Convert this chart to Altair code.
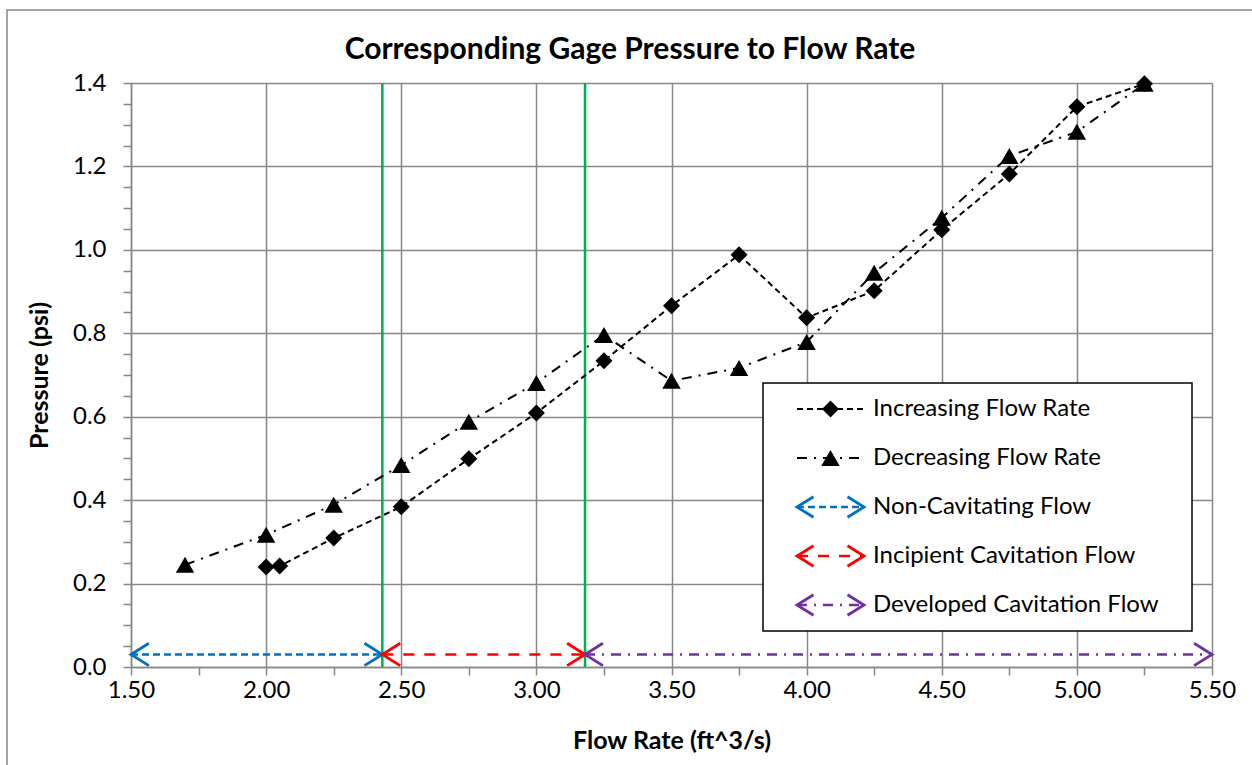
import altair as alt
import pandas as pd

# ---------------- data ----------------
inc_x = [2.00, 2.05, 2.25, 2.50, 2.75, 3.00, 3.25, 3.50, 3.75, 4.00, 4.25, 4.50, 4.75, 5.00, 5.25]
inc_y = [0.240, 0.242, 0.309, 0.384, 0.499, 0.609, 0.734, 0.866, 0.988, 0.837, 0.902, 1.048, 1.182, 1.343, 1.398]
dec_x = [5.25, 5.00, 4.75, 4.50, 4.25, 4.00, 3.75, 3.50, 3.25, 3.00, 2.75, 2.50, 2.25, 2.00, 1.70]
dec_y = [1.398, 1.283, 1.225, 1.077, 0.945, 0.779, 0.717, 0.686, 0.796, 0.681, 0.588, 0.484, 0.389, 0.317, 0.245]
series_names = ["Increasing Flow Rate", "Decreasing Flow Rate"]
boundaries = [2.43, 3.18]
regions = ["Non-Cavitating Flow", "Incipient Cavitation Flow", "Developed Cavitation Flow"]
region_start = [1.50, 2.43, 3.18]
region_end = [2.43, 3.18, 5.50]
arrow_level = [0.03, 0.03, 0.03]
x_ticks = [1.50 + 0.25 * i for i in range(17)]
y_ticks = [round(0.05 * i, 2) for i in range(29)]
chart_title = "Corresponding Gage Pressure to Flow Rate"

# ---------------- styles ----------------
FONT = "Lato"
GRID = "#878787"
region_colors = ["#0070C0", "#FF0000", "#7030A0"]
region_dash = [[7, 4], [11, 10], [10, 7, 2, 7]]
INC_DASH = [6, 4]
DEC_DASH = [10, 7, 2, 7]
GREEN = "#00B050"
LEFT_CHEV = "M 1.6 -1 L 0 0 L 1.6 1"
RIGHT_CHEV = "M -1.6 -1 L 0 0 L -1.6 1"
CHEV_SIZE = 500
CHEV_W = 2.8

PW, PH = 1081, 584
LEFT, TOP = 131, 83

major_x = "abs(datum.value*2 - round(datum.value*2)) < 0.01"
major_y = "abs(datum.value*5 - round(datum.value*5)) < 0.01"

xscale = alt.Scale(domain=[1.5, 5.5], nice=False, zero=False)
yscale = alt.Scale(domain=[0, 1.4], nice=False, zero=False)

x_axis = alt.Axis(
    values=x_ticks,
    labelExpr=f"{major_x} ? format(datum.value, '.2f') : ''",
    gridColor=GRID, gridWidth=1.5,
    gridOpacity={"condition": {"test": major_x, "value": 1}, "value": 0},
    tickColor=GRID, tickWidth=1.5, tickSize=8,
    domainColor=GRID, domainWidth=1.5,
    labelFont=FONT, labelFontSize=24, labelColor="black", labelPadding=3,
    labelFlush=False,
    title="Flow Rate (ft^3/s)", titleFont=FONT, titleFontSize=25,
    titleFontWeight="bold", titleColor="black", titlePadding=26,
)
y_axis = alt.Axis(
    values=y_ticks,
    labelExpr=f"{major_y} ? format(datum.value, '.1f') : ''",
    gridColor=GRID, gridWidth=1.5,
    gridOpacity={"condition": {"test": major_y, "value": 1}, "value": 0},
    tickColor=GRID, tickWidth=1.5, tickSize=8,
    domainColor=GRID, domainWidth=1.5,
    labelFont=FONT, labelFontSize=24, labelColor="black", labelPadding=17,
    labelFlush=False,
    title="Pressure (psi)", titleFont=FONT, titleFontSize=25,
    titleFontWeight="bold", titleColor="black", titlePadding=20,
)

X = lambda f: alt.X(f, type="quantitative", scale=xscale, axis=x_axis)
Y = lambda f: alt.Y(f, type="quantitative", scale=yscale, axis=y_axis)

inc_df = pd.DataFrame({"x": inc_x, "y": inc_y, "series": series_names[0]})
dec_df = pd.DataFrame({"x": dec_x, "y": dec_y, "series": series_names[1]})
bound_df = pd.DataFrame({"x": boundaries})
one = pd.DataFrame({"a": [0]})

layers = []

# outer chart border
layers.append(alt.Chart(one).mark_rect(fill=None, stroke=GRID, strokeWidth=1.5).encode(
    x=alt.value(7 - LEFT), x2=alt.value(1300 - LEFT), y=alt.value(10 - TOP), y2=alt.value(800 - TOP)))

# title
layers.append(alt.Chart(one).mark_text(text=chart_title, font=FONT, fontSize=30, fontWeight="bold",
                                       color="black", align="center", baseline="middle").encode(
    x=alt.value(630 - LEFT), y=alt.value(50 - TOP)))

# grid carrier (draws axes)
layers.append(alt.Chart(inc_df).mark_point(opacity=0).encode(x=X("x"), y=Y("y")))

# green boundary lines
layers.append(alt.Chart(bound_df).mark_rule(color=GREEN, strokeWidth=2.5).encode(x=X("x")))

# region arrows
for i in range(3):
    rdf = pd.DataFrame({"x": [region_start[i]], "x2": [region_end[i]], "y": [arrow_level[i]]})
    layers.append(
        alt.Chart(rdf).mark_rule(color=region_colors[i], strokeWidth=2.5, strokeDash=region_dash[i])
        .encode(x=X("x"), x2="x2", y=Y("y"))
    )
    layers.append(
        alt.Chart(rdf).mark_point(shape=LEFT_CHEV, size=CHEV_SIZE, filled=False, stroke=region_colors[i],
                                  strokeWidth=CHEV_W, opacity=1)
        .encode(x=X("x"), y=Y("y"))
    )
    layers.append(
        alt.Chart(rdf).mark_point(shape=RIGHT_CHEV, size=CHEV_SIZE, filled=False, stroke=region_colors[i],
                                  strokeWidth=CHEV_W, opacity=1)
        .encode(x=X("x2"), y=Y("y"))
    )

# data series
layers.append(alt.Chart(inc_df).mark_line(color="black", strokeWidth=2, strokeDash=INC_DASH)
              .encode(x=X("x"), y=Y("y")))
layers.append(alt.Chart(dec_df).mark_line(color="black", strokeWidth=2, strokeDash=DEC_DASH)
              .encode(x=X("x"), y=Y("y")))
layers.append(alt.Chart(inc_df).mark_point(shape="diamond", size=289, filled=True, color="black", opacity=1)
              .encode(x=X("x"), y=Y("y")))
layers.append(alt.Chart(dec_df).mark_point(shape="triangle-up", size=340, filled=True, color="black", opacity=1)
              .encode(x=X("x"), y=Y("y")))

# ---------------- legend (pixel layout) ----------------
LB_X0, LB_X1, LB_Y0, LB_Y1 = 763 - LEFT, 1192 - LEFT, 383 - TOP, 631 - TOP
SAMPLE_X0, SAMPLE_X1, TEXT_X = 797 - LEFT, 864 - LEFT, 873 - LEFT
ROW0, ROWSTEP = 409 - TOP, 49
legend_labels = series_names + regions

layers.append(alt.Chart(one).mark_rect(fill="white", stroke="black", strokeWidth=1.5).encode(
    x=alt.value(LB_X0), x2=alt.value(LB_X1), y=alt.value(LB_Y0), y2=alt.value(LB_Y1)))

for i, lab in enumerate(legend_labels):
    ry = ROW0 + ROWSTEP * i
    if i < 2:
        color = "black"
        dash = INC_DASH if i == 0 else DEC_DASH
        width = 2
    else:
        color = region_colors[i - 2]
        dash = region_dash[i - 2]
        width = 2.5
    layers.append(alt.Chart(one).mark_rule(color=color, strokeWidth=width, strokeDash=dash).encode(
        x=alt.value(SAMPLE_X0), x2=alt.value(SAMPLE_X1), y=alt.value(ry)))
    if i == 0:
        layers.append(alt.Chart(one).mark_point(shape="diamond", size=289, filled=True, color="black", opacity=1)
                      .encode(x=alt.value((SAMPLE_X0 + SAMPLE_X1) / 2), y=alt.value(ry)))
    elif i == 1:
        layers.append(alt.Chart(one).mark_point(shape="triangle-up", size=340, filled=True, color="black", opacity=1)
                      .encode(x=alt.value((SAMPLE_X0 + SAMPLE_X1) / 2), y=alt.value(ry)))
    else:
        layers.append(alt.Chart(one).mark_point(shape=LEFT_CHEV, size=CHEV_SIZE * 0.85, filled=False, stroke=color,
                                                strokeWidth=CHEV_W, opacity=1)
                      .encode(x=alt.value(SAMPLE_X0), y=alt.value(ry)))
        layers.append(alt.Chart(one).mark_point(shape=RIGHT_CHEV, size=CHEV_SIZE * 0.85, filled=False, stroke=color,
                                                strokeWidth=CHEV_W, opacity=1)
                      .encode(x=alt.value(SAMPLE_X1), y=alt.value(ry)))
    layers.append(alt.Chart(one).mark_text(text=lab, align="left", baseline="middle", font=FONT,
                                           fontSize=24, color="black").encode(
        x=alt.value(TEXT_X), y=alt.value(ry)))

chart = alt.layer(*layers).properties(
    width=PW, height=PH,
    autosize=alt.AutoSizeParams(type="none"),
    padding={"left": LEFT, "top": TOP, "right": 1252 - LEFT - PW, "bottom": 765 - TOP - PH},
).configure_view(stroke=None).configure(background="white")

chart.save("out.html", embed_options={"renderer": "svg", "actions": False})
